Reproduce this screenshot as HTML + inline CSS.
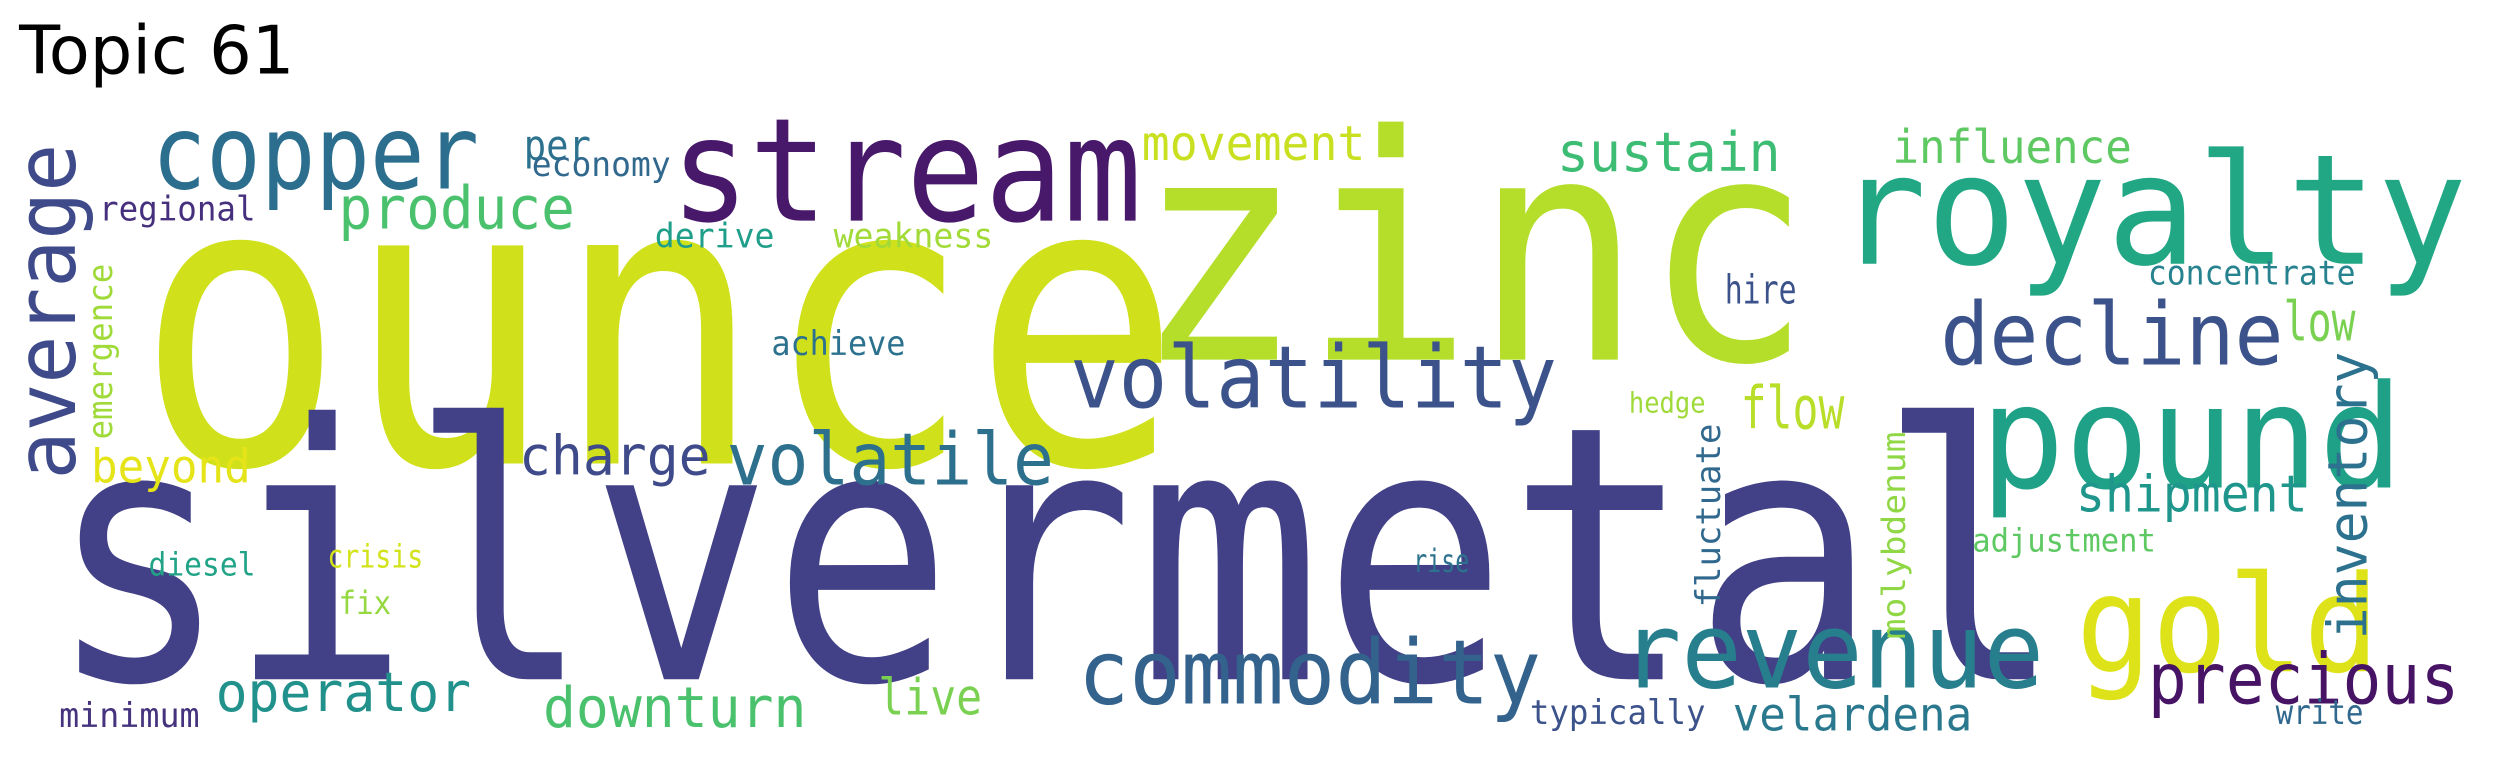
<!DOCTYPE html>
<html><head><meta charset="utf-8"><style>
html,body{margin:0;padding:0;background:#fff;}
svg{display:block;}
text{font-family:"DejaVu Sans Mono","Liberation Mono",monospace;}
</style></head><body>
<svg width="2504" height="764" viewBox="0 0 1568 478" preserveAspectRatio="none">
<text x="12" y="46" font-size="42" fill="#000" style="font-family:'DejaVu Sans','Liberation Sans',sans-serif">Topic 61</text>
<g>
<text x="85" y="290" font-size="250" fill="#d0e11c" textLength="655" lengthAdjust="spacingAndGlyphs">ounce</text>
<text x="30" y="425" font-size="222" fill="#424086" textLength="680" lengthAdjust="spacingAndGlyphs">silver</text>
<text x="712" y="425" font-size="222" fill="#424086" textLength="580" lengthAdjust="spacingAndGlyphs">metal</text>
<text x="710" y="225" font-size="196" fill="#b5de2b" textLength="425" lengthAdjust="spacingAndGlyphs">zinc</text>
<text x="420" y="138" font-size="90" fill="#48186a" textLength="295" lengthAdjust="spacingAndGlyphs">stream</text>
<text x="95" y="118" font-size="64" fill="#2c6e8e" textLength="205" lengthAdjust="spacingAndGlyphs">copper</text>
<text x="1150" y="165" font-size="96" fill="#22a785" textLength="395" lengthAdjust="spacingAndGlyphs">royalty</text>
<text x="1240" y="305" font-size="90" fill="#1fa187" textLength="265" lengthAdjust="spacingAndGlyphs">pound</text>
<text x="1300" y="420" font-size="84" fill="#dde318" textLength="190" lengthAdjust="spacingAndGlyphs">gold</text>
<text x="1015" y="430" font-size="66" fill="#277f8e" textLength="265" lengthAdjust="spacingAndGlyphs">revenue</text>
<text x="1345" y="440" font-size="44" fill="#471365" textLength="195" lengthAdjust="spacingAndGlyphs">precious</text>
<text x="675" y="440" font-size="56" fill="#33638d" textLength="290" lengthAdjust="spacingAndGlyphs">commodity</text>
<text x="670" y="255" font-size="54" fill="#3b528b" textLength="305" lengthAdjust="spacingAndGlyphs">volatility</text>
<text x="455" y="303" font-size="45" fill="#2d708e" textLength="205" lengthAdjust="spacingAndGlyphs">volatile</text>
<text x="1215" y="228" font-size="54" fill="#3b528b" textLength="215" lengthAdjust="spacingAndGlyphs">decline</text>
<text transform="translate(47,300) rotate(-90)" font-size="52" fill="#3e4a89" textLength="210" lengthAdjust="spacingAndGlyphs">average</text>
<text transform="translate(70,275) rotate(-90)" font-size="21" fill="#a0da39" textLength="110" lengthAdjust="spacingAndGlyphs">emergence</text>
<text x="62" y="138" font-size="21" fill="#46307e" textLength="98" lengthAdjust="spacingAndGlyphs">regional</text>
<text x="328" y="100" font-size="26" fill="#2c728e" textLength="42" lengthAdjust="spacingAndGlyphs">per</text>
<text x="333" y="110" font-size="21" fill="#31688e" textLength="87" lengthAdjust="spacingAndGlyphs">economy</text>
<text x="212" y="143" font-size="37" fill="#4ac16d" textLength="148" lengthAdjust="spacingAndGlyphs">produce</text>
<text x="410" y="155" font-size="21" fill="#1f9e89" textLength="75" lengthAdjust="spacingAndGlyphs">derive</text>
<text x="522" y="155" font-size="21" fill="#a2da37" textLength="100" lengthAdjust="spacingAndGlyphs">weakness</text>
<text x="715" y="100" font-size="30" fill="#c8e020" textLength="140" lengthAdjust="spacingAndGlyphs">movement</text>
<text x="975" y="107" font-size="34" fill="#3dbc74" textLength="140" lengthAdjust="spacingAndGlyphs">sustain</text>
<text x="1185" y="102" font-size="29" fill="#5ec962" textLength="150" lengthAdjust="spacingAndGlyphs">influence</text>
<text x="1345" y="178" font-size="21" fill="#26828e" textLength="130" lengthAdjust="spacingAndGlyphs">concentrate</text>
<text x="1080" y="190" font-size="25" fill="#3b528b" textLength="45" lengthAdjust="spacingAndGlyphs">hire</text>
<text x="1430" y="213" font-size="34" fill="#7ad151" textLength="45" lengthAdjust="spacingAndGlyphs">low</text>
<text x="1090" y="268" font-size="37" fill="#b8de29" textLength="65" lengthAdjust="spacingAndGlyphs">flow</text>
<text transform="translate(1482,400) rotate(-90)" font-size="34" fill="#2c728e" textLength="180" lengthAdjust="spacingAndGlyphs">inventory</text>
<text x="1300" y="320" font-size="32" fill="#1f968b" textLength="145" lengthAdjust="spacingAndGlyphs">shipment</text>
<text x="325" y="297" font-size="34" fill="#3e4a89" textLength="120" lengthAdjust="spacingAndGlyphs">charge</text>
<text x="57" y="302" font-size="29" fill="#e5e419" textLength="100" lengthAdjust="spacingAndGlyphs">beyond</text>
<text x="483" y="222" font-size="21" fill="#2c728e" textLength="84" lengthAdjust="spacingAndGlyphs">achieve</text>
<text x="1020" y="258" font-size="18" fill="#9fda3a" textLength="48" lengthAdjust="spacingAndGlyphs">hedge</text>
<text transform="translate(1077,380) rotate(-90)" font-size="21" fill="#31688e" textLength="115" lengthAdjust="spacingAndGlyphs">fluctuate</text>
<text transform="translate(1193,400) rotate(-90)" font-size="20" fill="#8fd744" textLength="130" lengthAdjust="spacingAndGlyphs">molybdenum</text>
<text x="1235" y="345" font-size="20" fill="#5ec962" textLength="115" lengthAdjust="spacingAndGlyphs">adjustment</text>
<text x="885" y="358" font-size="20" fill="#2c728e" textLength="35" lengthAdjust="spacingAndGlyphs">rise</text>
<text x="93" y="360" font-size="20" fill="#20a386" textLength="67" lengthAdjust="spacingAndGlyphs">diesel</text>
<text x="205" y="355" font-size="20" fill="#d2e21b" textLength="60" lengthAdjust="spacingAndGlyphs">crisis</text>
<text x="212" y="384" font-size="20" fill="#95d840" textLength="33" lengthAdjust="spacingAndGlyphs">fix</text>
<text x="135" y="445" font-size="34" fill="#21918c" textLength="160" lengthAdjust="spacingAndGlyphs">operator</text>
<text x="340" y="455" font-size="35" fill="#4ac16d" textLength="165" lengthAdjust="spacingAndGlyphs">downturn</text>
<text x="550" y="447" font-size="31" fill="#7ad151" textLength="65" lengthAdjust="spacingAndGlyphs">live</text>
<text x="1085" y="457" font-size="29" fill="#2a788e" textLength="150" lengthAdjust="spacingAndGlyphs">velardena</text>
<text x="958" y="453" font-size="21" fill="#3b528b" textLength="110" lengthAdjust="spacingAndGlyphs">typically</text>
<text x="1425" y="453" font-size="21" fill="#31688e" textLength="55" lengthAdjust="spacingAndGlyphs">write</text>
<text x="37" y="455" font-size="21" fill="#46337e" textLength="88" lengthAdjust="spacingAndGlyphs">minimum</text>
</g>
</svg>
</body></html>
